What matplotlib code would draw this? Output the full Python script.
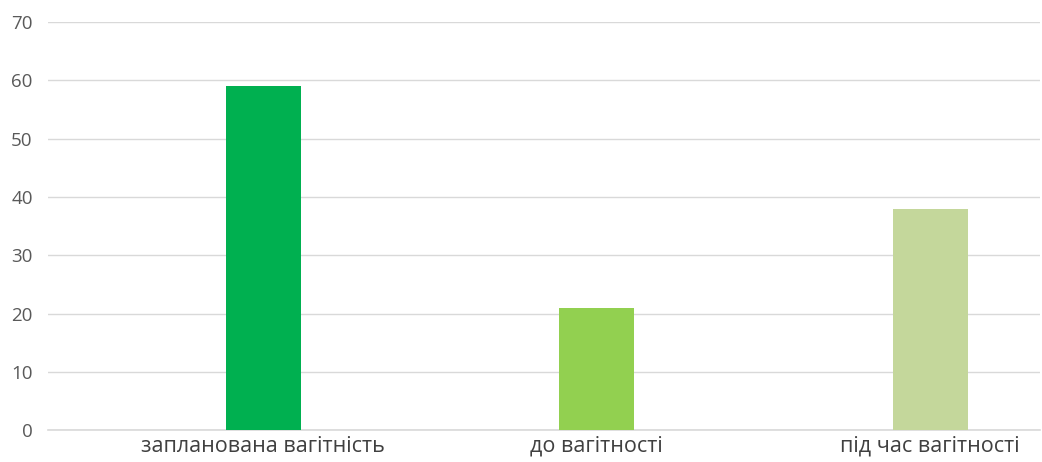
import numpy as np
import matplotlib
matplotlib.use('Agg')
import matplotlib.pyplot as plt

categories = ['запланована вагітність', 'до вагітності', 'під час вагітності']
values = [59, 21, 38]
colors = ['#00B050', '#92D050', '#C4D79B']
yticks = [0, 10, 20, 30, 40, 50, 60, 70]

plt.rcParams['font.family'] = ['Open Sans', 'DejaVu Sans']

fig = plt.figure(figsize=(10.42, 4.62), dpi=100)
ax = fig.add_axes([0.046, 0.069, 0.952, 0.883])

x = np.arange(len(categories))
ax.bar(x, values, width=0.225, color=colors, zorder=2)

ax.set_ylim(0, 70)
ax.set_yticks(yticks)
ax.set_xlim(-0.645, 2.329)
ax.set_xticks(x)
ax.set_xticklabels(categories, fontsize=15.5, color='#404040')
ax.tick_params(axis='y', labelsize=13.5, colors='#595959', length=0, pad=11)
ax.tick_params(axis='x', length=0, pad=4)
ax.grid(axis='y', color='#d9d9d9', linewidth=1, zorder=0)
# baseline sits on the axes edge, draw it unclipped so it shows fully
ax.axhline(0, color='#d9d9d9', linewidth=1.2, zorder=1, clip_on=False)
for s in ax.spines.values():
    s.set_visible(False)

fig.savefig('out.png', dpi=100, facecolor='white')
